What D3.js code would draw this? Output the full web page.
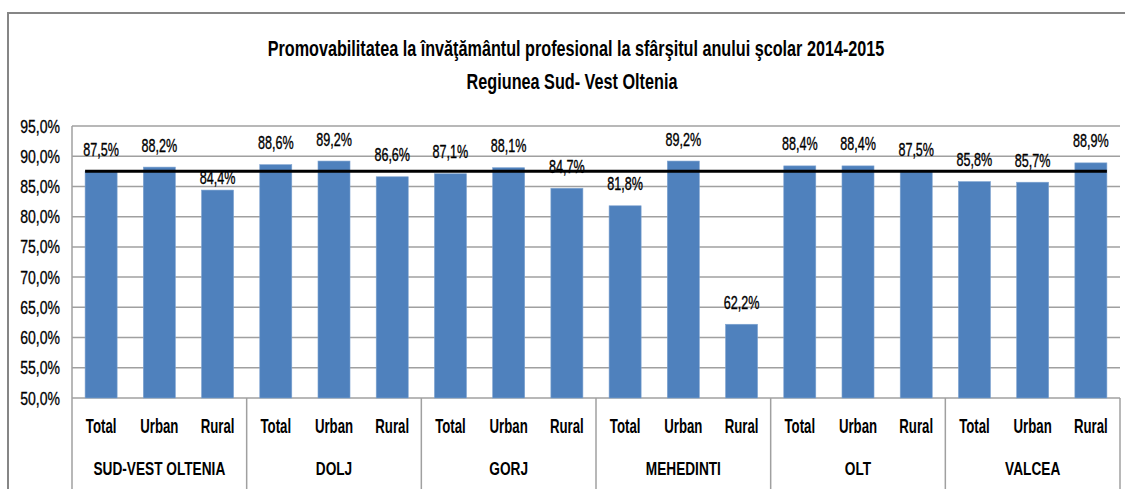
<!DOCTYPE html>
<html>
<head>
<meta charset="utf-8">
<script src="https://cdn.jsdelivr.net/npm/d3@7"></script>
<style>
  html, body { margin: 0; padding: 0; background: #fff; }
  svg { display: block; }
  text { font-family: "Liberation Sans", Arial, sans-serif; fill: #000; }
</style>
</head>
<body>
<svg id="chart" width="1125" height="489"></svg>
<script>
// Promotion rates in vocational education, end of school year 2014-2015
const titleLines = [
  "Promovabilitatea la învăţământul profesional la sfârşitul anului şcolar 2014-2015",
  "Regiunea Sud- Vest Oltenia"
];
const regions = ["SUD-VEST OLTENIA", "DOLJ", "GORJ", "MEHEDINTI", "OLT", "VALCEA"];
const areas = ["Total", "Urban", "Rural"];
// values per region, in the order Total, Urban, Rural
const sudVestOlteniaValues = [87.5, 88.2, 84.4];
const doljValues = [88.6, 89.2, 86.6];
const gorjValues = [87.1, 88.1, 84.7];
const mehedintiValues = [81.8, 89.2, 62.2];
const oltValues = [88.4, 88.4, 87.5];
const valceaValues = [85.8, 85.7, 88.9];
const regionalAverage = 87.5;
const yTicks = [50, 55, 60, 65, 70, 75, 80, 85, 90, 95];

const valuesByRegion = [sudVestOlteniaValues, doljValues, gorjValues, mehedintiValues, oltValues, valceaValues];
const rows = [];
regions.forEach((r, i) => areas.forEach((a, j) => rows.push({ key: r + "|" + a, region: r, area: a, value: valuesByRegion[i][j] })));

const svg = d3.select("#chart");
const plot = { left: 72, right: 1120, top: 126, bottom: 398 };

const x = d3.scaleBand().domain(rows.map(d => d.key)).range([plot.left, plot.right]).paddingInner(0.45).paddingOuter(0.225);
const xRegion = d3.scaleBand().domain(regions).range([plot.left, plot.right]);
const y = d3.scaleLinear().domain([50, 95]).range([plot.bottom, plot.top]);

const comma = v => d3.format(".1f")(v).replace(".", ",") + "%";

// condensed text: glyphs drawn narrower by a horizontal scale around the anchor point
function narrow(sel, px, py, sx) {
  sel.attr("x", 0).attr("y", 0)
     .attr("transform", (d, i, n) => `translate(${typeof px === "function" ? px(d, i, n) : px},${typeof py === "function" ? py(d, i, n) : py}) scale(${sx},1)`);
  return sel;
}

// outer chart frame (top and left edges)
svg.append("path").attr("d", "M8,489 V13 H1125").attr("fill", "none").attr("stroke", "#868686").attr("stroke-width", 2);

// title
const titleWidths = [617, 211];
titleLines.forEach((t, i) => {
  const el = svg.append("text").attr("text-anchor", "middle")
    .attr("font-size", 22).attr("font-weight", "bold").text(t);
  const w = el.node().getComputedTextLength();
  narrow(el, i === 0 ? 576 : 572, i === 0 ? 56 : 89, titleWidths[i] / w);
});

// horizontal gridlines
svg.append("g").selectAll("line").data(yTicks.filter(t => t > 50)).join("line")
  .attr("x1", plot.left).attr("x2", plot.right)
  .attr("y1", d => y(d)).attr("y2", d => y(d))
  .attr("stroke", "#a0a0a0").attr("stroke-width", 1.5);

// y axis
const yAxis = svg.append("g").attr("transform", `translate(${plot.left},0)`)
  .call(d3.axisLeft(y).tickValues(yTicks).tickFormat(comma).tickSize(0).tickPadding(12));
yAxis.select(".domain").remove();
yAxis.attr("font-family", null).attr("font-size", null);
yAxis.selectAll(".tick text").attr("font-size", 18).attr("dy", null)
  .attr("stroke", "#000").attr("stroke-width", 0.3)
  .each(function () {
    d3.select(this).attr("transform", "translate(-12,6) scale(0.78,1)").attr("x", 0).attr("y", 0);
  });

// axis lines and category separators
svg.append("line").attr("x1", plot.left).attr("x2", plot.left).attr("y1", plot.top).attr("y2", 489)
  .attr("stroke", "#a0a0a0").attr("stroke-width", 1.5);
svg.append("line").attr("x1", plot.left).attr("x2", plot.right).attr("y1", plot.bottom).attr("y2", plot.bottom)
  .attr("stroke", "#a0a0a0").attr("stroke-width", 1.5);
svg.append("g").selectAll("line").data(regions).join("line")
  .attr("x1", d => xRegion(d) + xRegion.bandwidth()).attr("x2", d => xRegion(d) + xRegion.bandwidth())
  .attr("y1", plot.bottom).attr("y2", 489)
  .attr("stroke", "#a0a0a0").attr("stroke-width", 1.5);

// bars
svg.append("g").selectAll("rect").data(rows).join("rect")
  .attr("x", d => x(d.key)).attr("width", x.bandwidth())
  .attr("y", d => y(d.value)).attr("height", d => y(50) - y(d.value))
  .attr("fill", "#4f81bd").attr("stroke", "#7ea3d0").attr("stroke-width", 0.6);

// regional average line
const first = rows[0], last = rows[rows.length - 1];
svg.append("line")
  .attr("x1", x(first.key)).attr("x2", x(last.key) + x.bandwidth())
  .attr("y1", y(regionalAverage)).attr("y2", y(regionalAverage))
  .attr("stroke", "#000").attr("stroke-width", 3);

// value labels (the one under the average line sits closer to its bar)
narrow(
  svg.append("g").selectAll("text").data(rows).join("text")
    .attr("text-anchor", "middle").attr("font-size", 18)
    .attr("stroke", "#000").attr("stroke-width", 0.35)
    .text(d => comma(d.value)),
  d => x(d.key) + x.bandwidth() / 2,
  d => y(d.value) - (d.key === "SUD-VEST OLTENIA|Rural" ? 6 : 15.5),
  0.7);

// area labels
narrow(
  svg.append("g").selectAll("text").data(rows).join("text")
    .attr("text-anchor", "middle").attr("font-size", 21).attr("font-weight", "bold").text(d => d.area),
  d => x(d.key) + x.bandwidth() / 2, 433, 0.63);

// region labels
narrow(
  svg.append("g").selectAll("text").data(regions).join("text")
    .attr("text-anchor", "middle").attr("font-size", 18).attr("font-weight", "bold").text(d => d),
  d => xRegion(d) + xRegion.bandwidth() / 2, 475, 0.76);
</script>
</body>
</html>
